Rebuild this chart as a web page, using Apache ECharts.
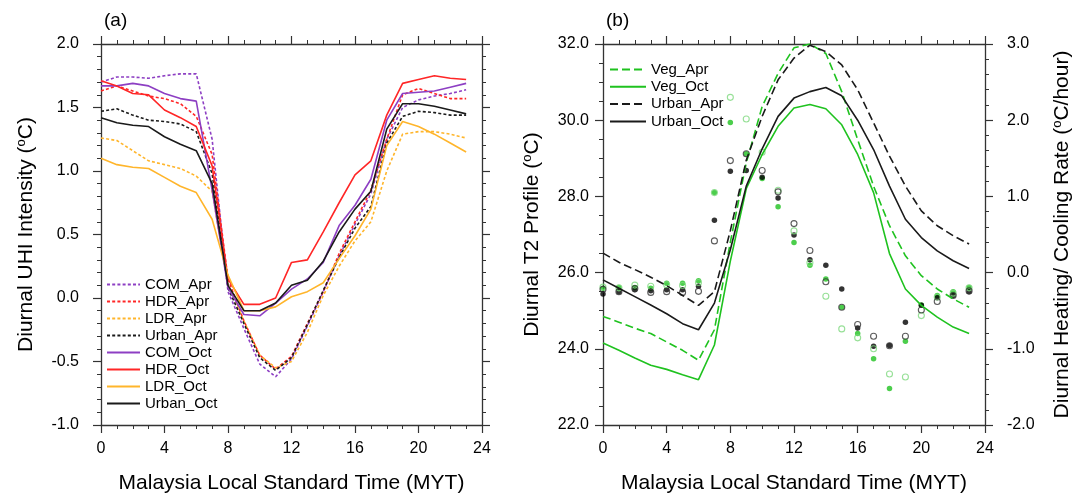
<!DOCTYPE html>
<html><head><meta charset="utf-8">
<script src="https://cdn.jsdelivr.net/npm/echarts@6/dist/echarts.min.js"></script>
<style>html,body{margin:0;padding:0;background:#fff}#c{width:1084px;height:499px}</style>
</head><body><div id="c"></div>
<script>
// ---------- data ----------
const hours = [0,1,2,3,4,5,6,7,8,9,10,11,12,13,14,15,16,17,18,19,20,21,22,23];
// panel (a): diurnal UHI intensity (degC)
const COM_Apr   = [1.70,1.74,1.74,1.73,1.75,1.765,1.765,1.25,0.05,-0.24,-0.52,-0.62,-0.48,-0.22,0.05,0.33,0.58,0.82,1.25,1.50,1.56,1.59,1.61,1.64];
const HDR_Apr   = [1.63,1.67,1.63,1.59,1.57,1.53,1.43,1.13,0.15,-0.18,-0.45,-0.56,-0.46,-0.20,0.05,0.35,0.60,0.85,1.25,1.60,1.65,1.61,1.57,1.57];
const LDR_Apr   = [1.26,1.24,1.16,1.08,1.05,1.02,0.96,0.84,0.10,-0.18,-0.45,-0.55,-0.50,-0.27,0.02,0.25,0.45,0.60,1.00,1.29,1.31,1.31,1.29,1.26];
const UrbanA_Apr= [1.47,1.49,1.44,1.40,1.39,1.37,1.31,0.98,0.08,-0.20,-0.47,-0.57,-0.47,-0.21,0.06,0.32,0.55,0.72,1.22,1.43,1.47,1.46,1.44,1.44];
const COM_Oct   = [1.67,1.67,1.69,1.67,1.61,1.57,1.55,0.85,0.08,-0.13,-0.14,-0.04,0.07,0.15,0.28,0.57,0.73,0.935,1.40,1.61,1.62,1.63,1.66,1.69];
const HDR_Oct   = [1.71,1.67,1.61,1.60,1.48,1.42,1.35,1.04,0.15,-0.05,-0.05,0.00,0.28,0.30,0.52,0.75,0.97,1.08,1.44,1.69,1.72,1.75,1.73,1.72];
const LDR_Oct   = [1.10,1.05,1.03,1.02,0.95,0.88,0.83,0.62,0.18,-0.10,-0.10,-0.07,0.01,0.05,0.12,0.31,0.49,0.70,1.20,1.39,1.35,1.29,1.22,1.15];
const UrbanA_Oct= [1.42,1.38,1.36,1.35,1.27,1.21,1.16,0.90,0.10,-0.10,-0.10,-0.04,0.10,0.14,0.29,0.52,0.70,0.84,1.33,1.53,1.53,1.51,1.48,1.45];
// panel (b): T2 profile (degC)
const Veg_Apr_T   = [24.85,24.70,24.54,24.40,24.18,23.96,23.70,24.50,26.80,28.88,30.36,31.23,31.90,32.00,31.75,30.75,29.49,28.27,27.23,26.44,25.92,25.57,25.31,25.09];
const Veg_Oct_T   = [24.15,23.96,23.76,23.57,23.46,23.32,23.19,24.10,26.30,28.20,29.10,29.84,30.32,30.41,30.30,29.88,29.10,28.10,26.50,25.57,25.14,24.83,24.57,24.40];
const Urban_Apr_T = [26.51,26.27,26.08,25.88,25.66,25.40,25.14,25.50,27.10,28.95,30.10,31.06,31.63,31.97,31.80,31.45,30.80,29.93,29.06,28.27,27.62,27.23,26.97,26.75];
const Urban_Oct_T = [25.81,25.59,25.37,25.15,24.92,24.66,24.50,25.20,26.60,28.27,29.25,30.10,30.58,30.75,30.86,30.64,30.00,29.23,28.27,27.40,26.92,26.57,26.31,26.11];
// panel (b): heating / cooling rate (degC/hour)
const Urban_Oct_R = [-0.28,-0.25,-0.225,-0.238,-0.225,-0.225,-0.18,0.686,1.33,1.34,1.25,0.98,0.495,0.168,0.098,-0.216,-0.726,-0.965,-0.957,-0.65,-0.43,-0.33,-0.30,-0.25];
const Urban_Apr_R = [-0.22,-0.25,-0.21,-0.26,-0.25,-0.26,-0.246,0.416,1.47,1.56,1.34,1.06,0.643,0.29,-0.12,-0.455,-0.682,-0.835,-0.96,-0.835,-0.49,-0.38,-0.30,-0.24];
const Veg_Oct_R   = [-0.207,-0.194,-0.194,-0.207,-0.14,-0.14,-0.107,1.05,1.97,1.56,1.235,0.865,0.394,0.098,-0.085,-0.455,-0.80,-1.13,-1.52,-0.90,-0.425,-0.30,-0.25,-0.194];
const Veg_Apr_R   = [-0.19,-0.20,-0.164,-0.18,-0.16,-0.17,-0.13,1.05,2.30,2.015,1.58,1.08,0.547,0.13,-0.31,-0.739,-0.856,-1.00,-1.33,-1.37,-0.564,-0.32,-0.27,-0.20];

// ---------- chart ----------
const FONT = "'Liberation Sans', Arial, Helvetica, sans-serif";
const pair = arr => hours.map((h,i)=>[h, arr[i]]);
const c = echarts.init(document.getElementById('c'), null, {renderer:'canvas'});
const AX = '#333';
const line = {lineStyle:{color:AX,width:1.3}};
const tick = {show:true,length:8,lineStyle:{color:AX,width:1.2}};
const minor = (n)=>({show:true,splitNumber:n,length:4,lineStyle:{color:AX,width:1}});
const f1 = v => v.toFixed(1);
function xAx(grid, pos, labels, name){
  return {type:'value',gridIndex:grid,position:pos,min:0,max:24,interval:4,
    axisLine:{show:true,onZero:false,...line},axisTick:tick,minorTick:minor(4),splitLine:{show:false},
    axisLabel:{show:labels,margin:16,fontSize:16,color:'#000',fontFamily:FONT},
    name:name||'',nameLocation:'middle',nameGap:48,nameTextStyle:{fontSize:21,color:'#000',fontFamily:FONT}};
}
const sup = {s:{fontSize:13,verticalAlign:'top',padding:[0,0,9,0],fontFamily:FONT,color:'#000'}};
const legendText = {fontSize:15,color:'#000',fontFamily:FONT,lineHeight:14};
const option = {
  animation:false,
  textStyle:{fontFamily:FONT},
  title:[
    {text:'(a)',left:99,top:6,textStyle:{fontSize:19,fontWeight:'normal',color:'#000',fontFamily:FONT}},
    {text:'(b)',left:601,top:6,textStyle:{fontSize:19,fontWeight:'normal',color:'#000',fontFamily:FONT}}
  ],
  grid:[
    {left:101,right:602,top:44,bottom:72,show:false},
    {left:603,right:99,top:44,bottom:72,show:false}
  ],
  xAxis:[
    xAx(0,'bottom',true,'Malaysia Local Standard Time (MYT)'),
    xAx(0,'top',false),
    xAx(1,'bottom',true,'Malaysia Local Standard Time (MYT)'),
    xAx(1,'top',false)
  ],
  yAxis:[
    {type:'value',gridIndex:0,position:'left',min:-1,max:2,interval:0.5,
     axisLine:{show:true,onZero:false,...line},axisTick:tick,minorTick:minor(5),splitLine:{show:false},
     axisLabel:{formatter:f1,margin:22,fontSize:16,color:'#000',fontFamily:FONT},
     name:'Diurnal UHI Intensity ({s|o}C)',nameLocation:'middle',nameRotate:90,nameGap:64,
     nameTextStyle:{fontSize:21,color:'#000',fontFamily:FONT,rich:sup}},
    {type:'value',gridIndex:0,position:'right',min:-1,max:2,interval:0.5,
     axisLine:{show:true,onZero:false,...line},axisTick:tick,minorTick:minor(5),splitLine:{show:false},
     axisLabel:{show:false}},
    {type:'value',gridIndex:1,position:'left',min:22,max:32,interval:2,
     axisLine:{show:true,onZero:false,...line},axisTick:tick,minorTick:minor(4),splitLine:{show:false},
     axisLabel:{formatter:f1,margin:14,fontSize:16,color:'#000',fontFamily:FONT},
     name:'Diurnal T2 Profile ({s|o}C)',nameLocation:'middle',nameRotate:90,nameGap:60,
     nameTextStyle:{fontSize:21,color:'#000',fontFamily:FONT,rich:sup}},
    {type:'value',gridIndex:1,position:'right',min:-2,max:3,interval:1,
     axisLine:{show:true,onZero:false,...line},axisTick:tick,minorTick:minor(5),splitLine:{show:false},
     axisLabel:{formatter:f1,margin:22,fontSize:16,color:'#000',fontFamily:FONT},
     name:'Diurnal Heating/ Cooling Rate ({s|o}C/hour)',nameLocation:'middle',nameRotate:90,nameGap:66,
     nameTextStyle:{fontSize:21,color:'#000',fontFamily:FONT,rich:sup}}
  ],
  legend:[
    {orient:'vertical',left:101,top:272,itemWidth:33,itemHeight:14,itemGap:2,
     textStyle:legendText,itemStyle:{opacity:0},
     data:['COM_Apr','HDR_Apr','LDR_Apr','Urban_Apr ','COM_Oct','HDR_Oct','LDR_Oct','Urban_Oct ']},
    {orient:'vertical',left:604,top:57,itemWidth:36,itemHeight:14,itemGap:2.3,
     textStyle:legendText,itemStyle:{opacity:0},
     data:['Veg_Apr','Veg_Oct','Urban_Apr','Urban_Oct']}
  ],
  series:[]
};
const PUR='#8d3fc3', RED='#ff2626', ORA='#ffb52b', BLK='#1a1a1a', GRN='#1fc21f', LGRN='#7dd87d';
const dot=[3,2.2], dash=[8,4];
function ln(name,data,color,type,xi,yi){
  return {name,type:'line',xAxisIndex:xi,yAxisIndex:yi,data:pair(data),symbol:'none',
    lineStyle:{color,width:1.6,type},itemStyle:{color},z:3};
}
option.series.push(
  ln('COM_Apr',COM_Apr,PUR,dot,0,0), ln('HDR_Apr',HDR_Apr,RED,dot,0,0),
  ln('LDR_Apr',LDR_Apr,ORA,dot,0,0), ln('Urban_Apr ',UrbanA_Apr,BLK,dot,0,0),
  ln('COM_Oct',COM_Oct,PUR,'solid',0,0), ln('HDR_Oct',HDR_Oct,RED,'solid',0,0),
  ln('LDR_Oct',LDR_Oct,ORA,'solid',0,0), ln('Urban_Oct ',UrbanA_Oct,BLK,'solid',0,0),
  ln('Veg_Apr',Veg_Apr_T,GRN,dash,2,2), ln('Veg_Oct',Veg_Oct_T,GRN,'solid',2,2),
  ln('Urban_Apr',Urban_Apr_T,BLK,dash,2,2), ln('Urban_Oct',Urban_Oct_T,BLK,'solid',2,2)
);
function sc(name,data,fill,border){
  return {name,type:'scatter',xAxisIndex:2,yAxisIndex:3,data:pair(data),symbol:'circle',
    symbolSize:fill?5.5:6,itemStyle:fill?{color:fill}:{color:'rgba(0,0,0,0)',borderColor:border,borderWidth:1.1},z:2};
}
option.series.push(
  sc('rVegOct',Veg_Oct_R,GRN,null),
  sc('rUrbOct',Urban_Oct_R,'#000',null),
  sc('rVegApr',Veg_Apr_R,null,LGRN),
  sc('rUrbApr',Urban_Apr_R,null,'#333')
);
c.setOption(option);
</script></body></html>
